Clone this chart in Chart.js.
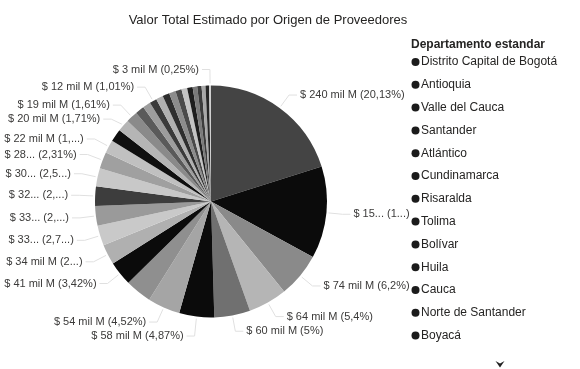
<!DOCTYPE html>
<html lang="es">
<head>
<meta charset="utf-8">
<title>Valor Total Estimado por Origen de Proveedores</title>
<script src="https://cdn.jsdelivr.net/npm/chart.js@4.4.1/dist/chart.umd.min.js"></script>
<style>
  html, body { margin: 0; padding: 0; background: #fff; }
  canvas { display: block; }
</style>
</head>
<body>
<canvas id="origenChart" width="580" height="369"></canvas>
<script>
// Departamento de origen del proveedor, de mayor a menor valor
const departamentos = [
  "Distrito Capital de Bogotá", "Antioquia", "Valle del Cauca", "Santander",
  "Atlántico", "Cundinamarca", "Risaralda", "Tolima", "Bolívar", "Huila",
  "Cauca", "Norte de Santander", "Boyacá", "Meta", "Caldas", "Nariño",
  "Quindío", "Magdalena", "Córdoba", "Cesar", "Sucre", "Casanare",
  "La Guajira", "Caquetá", "Chocó", "Putumayo", "Arauca", "San Andrés",
  "Amazonas", "Guaviare", "Vichada", "Guainía", "Vaupés"
];

// Valor total estimado, en miles de millones de pesos (mil M)
const valores = [
  240.4, 153, 74.03, 64.49, 59.7, 58.15, 54, 44.0, 40.8, 33.6,
  33.2, 32.9, 32.4, 30.2, 27.6, 21.6, 21, 20.4, 19.2, 15,
  13, 12, 11.8, 11.4, 10.9, 10.3, 9.5, 9.1, 7.6, 7.2,
  6.5, 6.0, 3.03
];

// Porciones cuya etiqueta de datos no cabe y queda oculta
const sinEtiqueta = [
  "Tolima", "Quindío", "Cesar", "Sucre", "La Guajira", "Caquetá", "Chocó",
  "Putumayo", "Arauca", "San Andrés", "Amazonas", "Guaviare", "Vichada", "Guainía"
];

// Entradas visibles de la leyenda antes de la flecha de desplazamiento
const itemsLeyenda = 13;

const grises = [
  "#444444", "#0b0b0b", "#8a8a8a", "#b5b5b5", "#707070", "#0b0b0b", "#a5a5a5",
  "#8f8f8f", "#0b0b0b", "#b0b0b0", "#c9c9c9", "#9a9a9a", "#3d3d3d", "#c8c8c8",
  "#a0a0a0", "#c0c0c0", "#0f0f0f", "#b5b5b5", "#8a8a8a", "#5a5a5a", "#9d9d9d",
  "#3a3a3a", "#b0b0b0", "#2e2e2e", "#8c8c8c", "#4a4a4a", "#c4c4c4", "#1e1e1e",
  "#7a7a7a", "#3c3c3c", "#a8a8a8", "#262626", "#d0d0d0"
];

const FUENTE = '"Liberation Sans", Arial, sans-serif';

const tituloVisual = {
  id: "tituloVisual",
  afterDraw(chart) {
    const { ctx } = chart;
    ctx.save();
    ctx.font = "13px " + FUENTE;
    ctx.fillStyle = "#252423";
    ctx.textAlign = "center";
    ctx.textBaseline = "middle";
    ctx.fillText("Valor Total Estimado por Origen de Proveedores", 268, 20);
    ctx.restore();
  }
};

const leyendaDepartamentos = {
  id: "leyendaDepartamentos",
  afterDraw(chart) {
    const { ctx } = chart;
    const x = 411, y0 = 62, paso = 22.8;
    ctx.save();
    ctx.textBaseline = "middle";
    ctx.textAlign = "left";
    ctx.fillStyle = "#252423";
    ctx.font = "bold 12px " + FUENTE;
    ctx.fillText("Departamento estandar", x, 45);
    ctx.font = "12px " + FUENTE;
    chart.data.labels.slice(0, itemsLeyenda).forEach((nombre, i) => {
      const y = y0 + i * paso;
      ctx.fillStyle = "#1b1b1b";
      ctx.beginPath();
      ctx.arc(x + 4.5, y, 4, 0, Math.PI * 2);
      ctx.fill();
      ctx.fillStyle = "#252423";
      ctx.fillText(nombre, x + 10, y);
    });
    // flecha para ver el resto de la leyenda
    ctx.fillStyle = "#222";
    ctx.beginPath();
    ctx.moveTo(495.5, 361);
    ctx.lineTo(500, 363.5);
    ctx.lineTo(504.5, 361);
    ctx.lineTo(500, 367.5);
    ctx.closePath();
    ctx.fill();
    ctx.restore();
  }
};

// recorta valor y porcentaje como lo hace el visual cuando no hay espacio
function ajustarTexto(ctx, valor, pct, maxW) {
  const ancho = (t) => ctx.measureText(t).width;
  const completo = valor + " " + pct;
  if (ancho(completo) <= maxW) return completo;
  const vs = [valor];
  for (let k = valor.length - 1; k >= 4; k--) vs.push(valor.slice(0, k).trimEnd() + "...");
  const ps = [pct];
  const nucleo = pct.slice(1, -1);
  for (let k = nucleo.length - 1; k >= 1; k--) ps.push("(" + nucleo.slice(0, k) + "...)");
  for (let s = 0; s < vs.length + ps.length; s++) {
    for (let i = 0; i <= s; i++) {
      const a = vs[i], b = ps[s - i];
      if (a && b && ancho(a + " " + b) <= maxW) return a + " " + b;
    }
  }
  return vs[vs.length - 1];
}

const etiquetasDatos = {
  id: "etiquetasDatos",
  afterDatasetsDraw(chart) {
    const { ctx } = chart;
    const meta = chart.getDatasetMeta(0);
    const datos = chart.data.datasets[0].data;
    const total = datos.reduce((a, b) => a + b, 0);
    const lados = { izq: [], der: [] };

    meta.data.forEach((arc, i) => {
      if (sinEtiqueta.includes(chart.data.labels[i])) return;
      const p = arc.getProps(["x", "y", "startAngle", "endAngle", "outerRadius"], true);
      const a = (p.startAngle + p.endAngle) / 2;
      const cos = Math.cos(a), sin = Math.sin(a);
      const codo = p.outerRadius + 16;
      const pct = String(+(datos[i] / total * 100).toFixed(2)).replace(".", ",");
      lados[cos < 0 ? "izq" : "der"].push({
        cos, sin, cx: p.x, cy: p.y, r: p.outerRadius,
        ex: p.x + cos * codo, ey: p.y + sin * codo, ty: p.y + sin * codo,
        valor: "$ " + Math.round(datos[i]) + " mil M",
        pct: "(" + pct + "%)"
      });
    });

    ctx.save();
    ctx.font = "11px " + FUENTE;
    ctx.textBaseline = "middle";
    Object.entries(lados).forEach(([lado, lista]) => {
      // separar verticalmente las etiquetas que se pisan
      lista.sort((p, q) => p.ey - q.ey);
      for (let k = 1; k < lista.length; k++) {
        lista[k].ty = Math.max(lista[k].ty, lista[k - 1].ty + 14);
      }
      const dir = lado === "izq" ? -1 : 1;
      lista.forEach((e) => {
        ctx.strokeStyle = "#e0e0e0";
        ctx.lineWidth = 1;
        ctx.beginPath();
        ctx.moveTo(e.cx + e.cos * (e.r + 2), e.cy + e.sin * (e.r + 2));
        ctx.lineTo(e.ex, e.ty);
        ctx.lineTo(e.ex + dir * 8, e.ty);
        ctx.stroke();
        const tx = e.ex + dir * 11;
        const maxW = lado === "izq" ? tx - 4 : 412 - tx;
        ctx.textAlign = lado === "izq" ? "right" : "left";
        ctx.fillStyle = "#3b3a39";
        ctx.fillText(ajustarTexto(ctx, e.valor, e.pct, maxW), tx, e.ty);
      });
    });
    ctx.restore();
  }
};

new Chart(document.getElementById("origenChart"), {
  type: "pie",
  data: {
    labels: departamentos,
    datasets: [
      {
        data: valores,
        backgroundColor: grises,
        borderWidth: 0
      }
    ]
  },
  options: {
    responsive: false,
    animation: false,
    layout: {
      padding: { left: 95, right: 253, top: 85.5, bottom: 51.5 }
    },
    plugins: {
      legend: { display: false },
      tooltip: { enabled: false },
      title: { display: false }
    }
  },
  plugins: [tituloVisual, leyendaDepartamentos, etiquetasDatos]
});
</script>
</body>
</html>
